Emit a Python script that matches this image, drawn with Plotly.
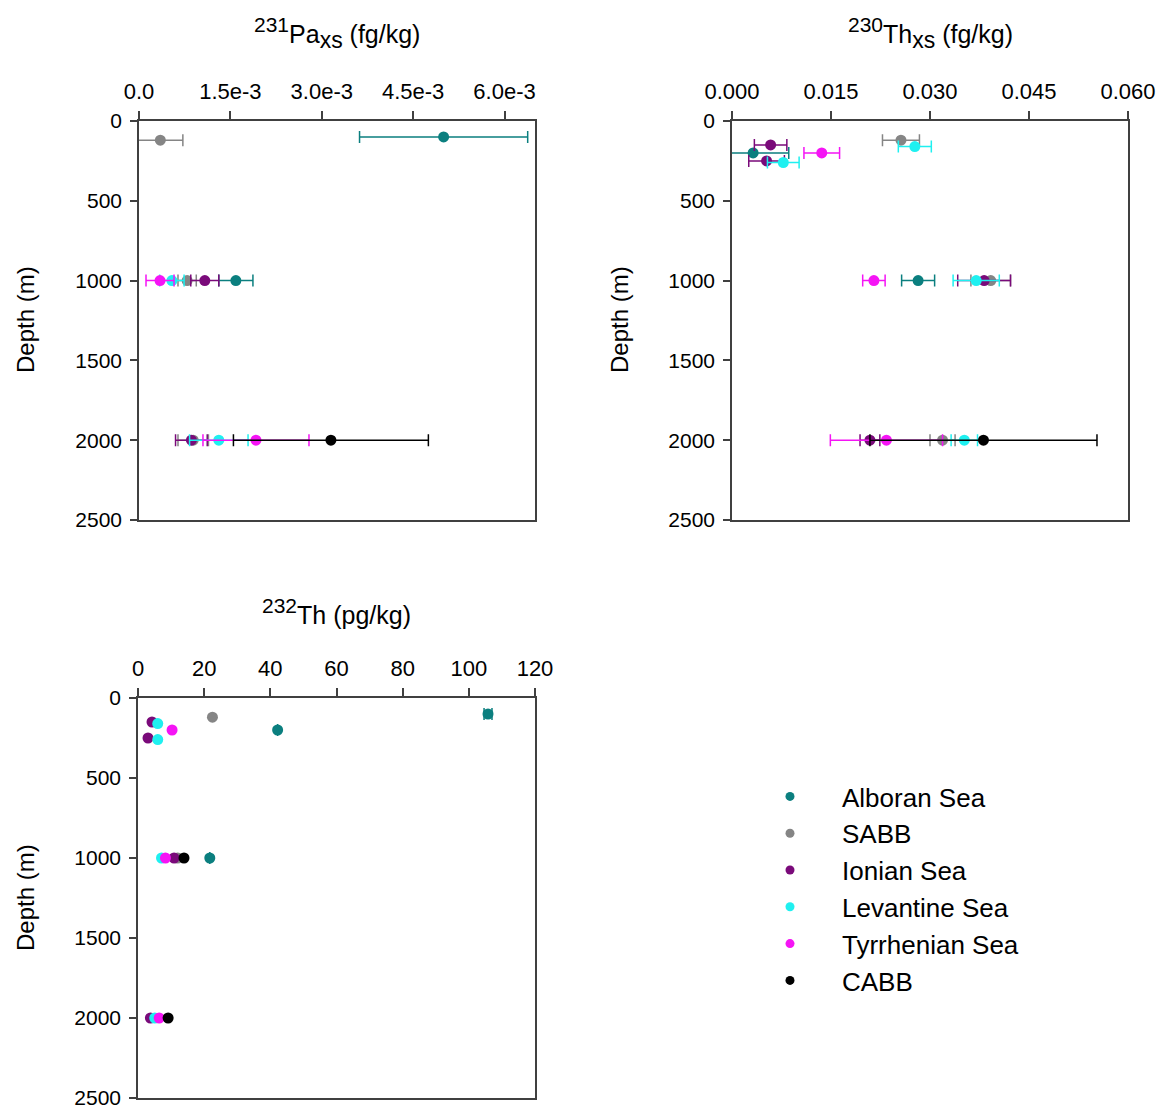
import plotly.graph_objects as go

W, H = 1168, 1113

series = ["Alboran Sea", "SABB", "Ionian Sea", "Levantine Sea", "Tyrrhenian Sea", "CABB"]
colors = ["#0b7f7f", "#858585", "#7a0a7a", "#1ff0f0", "#f514f5", "#000000"]

# depths (m) per series
alb_depth = [100, 200, 1000]
sabb_depth = [120, 1000, 2000]
ion_depth = [150, 250, 1000, 2000]
lev_depth = [160, 260, 1000, 2000]
tyr_depth = [200, 1000, 2000]
cabb_depth = [1000, 2000]

# 231Pa_xs (fg/kg)
alb_pa = [5.0e-3, None, 1.59e-3]
alb_pa_err = [1.38e-3, None, 2.8e-4]
sabb_pa = [3.5e-4, 7.9e-4, 8.9e-4]
sabb_pa_err = [3.7e-4, 1.5e-4, 2.5e-4]
ion_pa = [None, None, 1.08e-3, 8.6e-4]
ion_pa_err = [None, None, 2.3e-4, 2.6e-4]
lev_pa = [None, None, 5.4e-4, 1.31e-3]
lev_pa_err = [None, None, 2.0e-4, 4.8e-4]
tyr_pa = [None, 3.45e-4, 1.92e-3]
tyr_pa_err = [None, 2.3e-4, 8.7e-4]
cabb_pa = [None, 3.15e-3]
cabb_pa_err = [None, 1.6e-3]

# 230Th_xs (fg/kg)
alb_th0 = [None, 0.0032, 0.0282]
alb_th0_err = [None, 0.0054, 0.0025]
sabb_th0 = [0.0256, 0.0392, 0.0319]
sabb_th0_err = [0.0028, 0.003, 0.0019]
ion_th0 = [0.00585, 0.00524, 0.0382, 0.0209]
ion_th0_err = [0.00246, 0.0027, 0.004, 0.0015]
lev_th0 = [0.0277, 0.00777, 0.0370, 0.0352]
lev_th0_err = [0.0025, 0.0024, 0.0035, 0.002]
tyr_th0 = [0.0136, 0.0215, 0.0234]
tyr_th0_err = [0.0027, 0.0017, 0.0085]
cabb_th0 = [None, 0.0381]
cabb_th0_err = [None, 0.0172]

# 232Th (pg/kg)
alb_th2 = [105.8, 42.2, 21.7]
alb_th2_err = [1.2, 0, 0]
sabb_th2 = [22.5, 12.0, None]
ion_th2 = [4.24, 3.03, 10.9, 3.75]
lev_th2 = [5.97, 5.97, 7.1, 5.06]
tyr_th2 = [10.3, 8.3, 6.4]
cabb_th2 = [13.9, 9.1]

pa_ticks = [0, 1.5e-3, 3.0e-3, 4.5e-3, 6.0e-3]
pa_ticktext = ["0.0", "1.5e-3", "3.0e-3", "4.5e-3", "6.0e-3"]
th0_ticks = [0, 0.015, 0.030, 0.045, 0.060]
th0_ticktext = ["0.000", "0.015", "0.030", "0.045", "0.060"]
th2_ticks = [0, 20, 40, 60, 80, 100, 120]
depth_ticks = [0, 500, 1000, 1500, 2000, 2500]

depths = [alb_depth, sabb_depth, ion_depth, lev_depth, tyr_depth, cabb_depth]
pa_vals = [alb_pa, sabb_pa, ion_pa, lev_pa, tyr_pa, cabb_pa]
pa_errs = [alb_pa_err, sabb_pa_err, ion_pa_err, lev_pa_err, tyr_pa_err, cabb_pa_err]
th0_vals = [alb_th0, sabb_th0, ion_th0, lev_th0, tyr_th0, cabb_th0]
th0_errs = [alb_th0_err, sabb_th0_err, ion_th0_err, lev_th0_err, tyr_th0_err, cabb_th0_err]
th2_vals = [alb_th2, sabb_th2, ion_th2, lev_th2, tyr_th2, cabb_th2]
th2_errs = [alb_th2_err, None, None, None, None, None]

FONT = "Liberation Sans, Arial, sans-serif"
fig = go.Figure()

def add(vals, errs, d, c, xa, ya):
    ex = None
    if errs is not None:
        ex = dict(type="data", array=[e if e is not None else 0 for e in errs],
                  color=c, thickness=1.5, width=6, visible=True)
    fig.add_trace(go.Scatter(x=vals, y=d, mode="markers", xaxis=xa, yaxis=ya,
                             marker=dict(color=c, size=11, line=dict(width=0)), error_x=ex,
                             showlegend=False, hoverinfo="skip"))

for i in range(6):
    add(pa_vals[i], pa_errs[i], depths[i], colors[i], "x", "y")
    add(th0_vals[i], th0_errs[i], depths[i], colors[i], "x2", "y2")
    add(th2_vals[i], th2_errs[i], depths[i], colors[i], "x3", "y3")

# legend entries
for i in range(6):
    fig.add_trace(go.Scatter(x=[None], y=[None], mode="markers", name=series[i],
                             legendgroup=series[i], xaxis="x3", yaxis="y3",
                             marker=dict(color=colors[i], size=9, line=dict(width=0))))

def px(x):
    return x / W

def py(y):
    return 1 - y / H

common_x = dict(side="top", showline=True, linecolor="#404040", linewidth=1.5, mirror=True,
                ticks="outside", ticklen=8, tickwidth=1.5, tickcolor="#404040",
                showgrid=False, zeroline=False, tickfont=dict(size=22, color="black"),
                ticklabelstandoff=3, automargin=False)
common_y = dict(showline=True, linecolor="#404040", linewidth=1.5, mirror=True,
                ticks="outside", ticklen=7, tickwidth=1.5, tickcolor="#404040",
                showgrid=False, zeroline=False, range=[2500, 0], tickvals=depth_ticks,
                tickfont=dict(size=21, color="black"), ticklabelstandoff=4, automargin=False)

fig.update_layout(
    template="none",
    width=W, height=H,
    margin=dict(l=0, r=0, t=0, b=0, pad=0, autoexpand=False),
    paper_bgcolor="white", plot_bgcolor="white",
    font=dict(family=FONT, color="black"),
    xaxis=dict(common_x, domain=[px(139), px(535)], anchor="y", range=[0, 0.0065],
               tickvals=pa_ticks, ticktext=pa_ticktext),
    yaxis=dict(common_y, domain=[py(520), py(121)], anchor="x"),
    xaxis2=dict(common_x, domain=[px(732), px(1128)], anchor="y2", range=[0, 0.06],
                tickvals=th0_ticks, ticktext=th0_ticktext),
    yaxis2=dict(common_y, domain=[py(520), py(121)], anchor="x2"),
    xaxis3=dict(common_x, domain=[px(138), px(535)], anchor="y3", range=[0, 120],
                tickvals=th2_ticks),
    yaxis3=dict(common_y, domain=[py(1098), py(698)], anchor="x3"),
    legend=dict(x=px(738), y=py(773), xanchor="left", yanchor="top",
                font=dict(size=26, color="black"), itemwidth=94,
                tracegroupgap=0, bgcolor="rgba(0,0,0,0)", borderwidth=0),
    showlegend=True,
)

def title_html(sup, main, sub, rest):
    s = "<sup><span style='font-size:21px'>%s</span></sup>%s" % (sup, main)
    if sub:
        s += "<sub><span style='font-size:23px'>%s</span></sub>" % sub
    return s + rest

titles = [(title_html("231", "Pa", "xs", " (fg/kg)"), (139 + 535) / 2, 33),
          (title_html("230", "Th", "xs", " (fg/kg)"), (732 + 1128) / 2, 33),
          (title_html("232", "Th", "", " (pg/kg)"), (138 + 535) / 2, 611)]
for t, x, y in titles:
    fig.add_annotation(text=t, x=px(x), y=py(y), xref="paper", yref="paper",
                       showarrow=False, font=dict(size=25, color="black"),
                       xanchor="center", yanchor="middle")

for x, y in [(25, 320), (619, 320), (25, 898)]:
    fig.add_annotation(text="Depth (m)", x=px(x), y=py(y), xref="paper", yref="paper",
                       showarrow=False, textangle=-90, font=dict(size=24, color="black"),
                       xanchor="center", yanchor="middle")

fig.write_html("out.html", config={"displayModeBar": False},
               post_script="document.body.style.margin='0';document.body.style.overflow='hidden';")
